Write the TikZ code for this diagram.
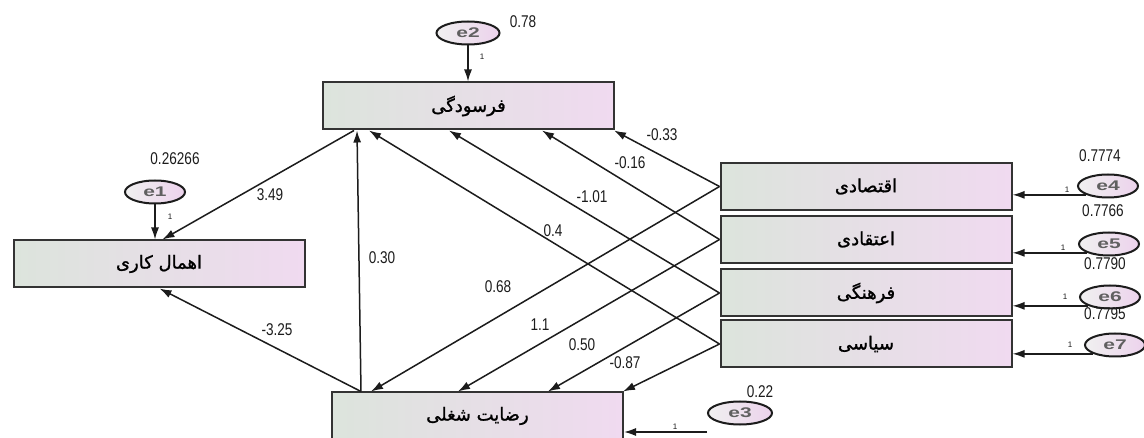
\documentclass[tikz,border=0pt]{standalone}
\usepackage{fontspec}
\setmainfont{Liberation Sans}
\newfontfamily\numfont{Liberation Sans}[FakeStretch=0.8]
\newfontfamily\fafont[Script=Arabic,FakeBold=1.2]{DejaVu Sans}
\TeXXeTstate=1
\usetikzlibrary{arrows.meta,shapes.geometric,calc}
\definecolor{boxL}{RGB}{220,228,220}
\definecolor{boxR}{RGB}{240,218,240}
\definecolor{ellL}{RGB}{240,240,240}
\definecolor{ellR}{RGB}{236,210,236}
\definecolor{ink}{RGB}{28,28,28}
\newcommand{\fa}[1]{{\fafont\beginR #1\endR}}
\begin{document}
\begin{tikzpicture}[x=1pt,y=-1pt,
  varbox/.style={draw=ink!90, line width=2pt, left color=boxL, right color=boxR,
    minimum width=291pt, minimum height=47pt, inner sep=0pt, text=black,
    font=\fontsize{18}{20}\selectfont},
  errell/.style={ellipse, draw=ink, line width=2pt, left color=ellL, right color=ellR,
    minimum width=60pt, minimum height=23pt, inner sep=0pt, text=ink!70,
    font=\bfseries\fontsize{14}{15}\selectfont},
  arr/.style={-{Latex[length=12pt,width=8pt]}, line width=1.5pt, draw=ink},
  lbl/.style={font=\numfont\fontsize{17}{18}\selectfont, text=ink, inner sep=0pt},
  one/.style={font=\fontsize{8}{9}\selectfont, text=ink, inner sep=0pt}]
\useasboundingbox (0,0) rectangle (1144,438);
\fill[white] (0,0) rectangle (1144,438);

% variable boxes
\node[varbox] (F) at (468.5,106) {\fa{فرسودگی}};
\node[varbox] (E) at (159,264) {\fa{اهمال کاری}};
\node[varbox] (R) at (477.5,416) {\fa{رضایت شغلی}};
\node[varbox] (A1) at (866,186.5) {\fa{اقتصادی}};
\node[varbox] (A2) at (866,239.5) {\fa{اعتقادی}};
\node[varbox] (A3) at (866,293) {\fa{فرهنگی}};
\node[varbox] (A4) at (866,344) {\fa{سیاسی}};

% error terms
\node[errell, minimum width=63pt] (e2) at (468,33) {\scalebox{1.5}[1]{e2}};
\node[errell] (e1) at (155,192) {\scalebox{1.5}[1]{e1}};
\node[errell, minimum width=64pt] (e3) at (740,413) {\scalebox{1.5}[1]{e3}};
\node[errell] (e4) at (1108,186) {\scalebox{1.5}[1]{e4}};
\node[errell] (e5) at (1109,244) {\scalebox{1.5}[1]{e5}};
\node[errell] (e6) at (1110,297) {\scalebox{1.5}[1]{e6}};
\node[errell] (e7) at (1115,345) {\scalebox{1.5}[1]{e7}};

% variance labels
\node[lbl] (v2) at (523,22) {0.78};
\node[lbl] (v1) at (175,159) {0.26266};
\node[lbl] (v3) at (760,392) {0.22};
\node[lbl] (v4) at (1100,156) {0.7774};
\node[lbl] (v5) at (1103,211) {0.7766};
\node[lbl] (v6) at (1105,264) {0.7790};
\node[lbl] (v7) at (1105,314) {0.7795};

% error arrows
\draw[arr] (e2.south) -- (e2.south |- F.north);
\draw[arr] (e1.south) -- (e1.south |- E.north);
\draw[arr] (e4.south west) -- (e4.south west -| A1.east);
\draw[arr] (e5.south west) -- (e5.south west -| A2.east);
\draw[arr] (e6.south west) -- (e6.south west -| A3.east);
\draw[arr] (e7.south west) -- (e7.south west -| A4.east);
\coordinate (c3) at ($(e3.west)+(0,19)$);
\draw[arr] (c3) -- (c3 -| R.east);
\node[one] (o2) at (482,57) {1};
\node[one] (o1) at (170,217) {1};
\node[one] (o3) at (675,427) {1};
\node[one] (o4) at (1067,190) {1};
\node[one] (o5) at (1063,248) {1};
\node[one] (o6) at (1065,297) {1};
\node[one] (o7) at (1070,345) {1};

% structural paths
\draw[arr] ($(F.south west)+(32,0)$) -- ($(E.north west)+(150,0)$);
\draw[arr] ($(R.north west)+(30,0)$) -- ($(E.south west)+(147,0)$);
\draw[arr] ($(R.north west)+(30,0)$) -- ($(F.south west)+(35,0)$);
\draw[arr] (A1.west) -- ($(F.south east)+(-1,0)$);
\draw[arr] (A2.west) -- ($(F.south west)+(220,0)$);
\draw[arr] (A3.west) -- ($(F.south west)+(127,0)$);
\draw[arr] (A4.west) -- ($(F.south west)+(47,0)$);
\draw[arr] (A1.west) -- ($(R.north west)+(40,0)$);
\draw[arr] (A2.west) -- ($(R.north west)+(127,0)$);
\draw[arr] (A3.west) -- ($(R.north west)+(217,0)$);
\draw[arr] (A4.west) -- ($(R.north east)+(-1,0)$);

% path labels
\node[lbl] (l1) at (270,195) {3.49};
\node[lbl] (l2) at (277,330) {-3.25};
\node[lbl] (l3) at (382,258) {0.30};
\node[lbl] (l4) at (662,135) {-0.33};
\node[lbl] (l5) at (630,163) {-0.16};
\node[lbl] (l6) at (592,197) {-1.01};
\node[lbl] (l7) at (553,231) {0.4};
\node[lbl] (l8) at (498,287) {0.68};
\node[lbl] (l9) at (540,325) {1.1};
\node[lbl] (l10) at (582,345) {0.50};
\node[lbl] (l11) at (625,363) {-0.87};
\end{tikzpicture}
\end{document}
